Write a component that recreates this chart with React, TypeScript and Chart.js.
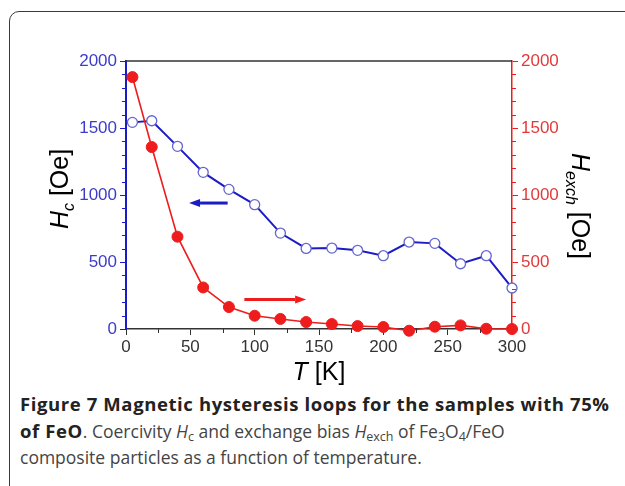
import React, { useEffect, useRef } from "react";
import { Chart, registerables } from "chart.js";

Chart.register(...registerables);

// ---- data ----
const temperatures = [5, 20, 40, 60, 80, 100, 120, 140, 160, 180, 200, 220, 240, 260, 280, 300];
const coercivity = [1542, 1554, 1363, 1169, 1042, 928, 716, 601, 604, 587, 547, 649, 639, 487, 547, 306];
const exchangeBias = [1880, 1358, 689, 310, 164, 99, 75, 52, 37, 22, 15, -13, 17, 27, 2, 0];
const xTickValues = [0, 50, 100, 150, 200, 250, 300];
const yTickValues = [0, 500, 1000, 1500, 2000];
const xMinorStep = 25;
const yMinorStep = 100;
// arrows (data coordinates): [T, value]
const blueArrowFrom = [79, 940];
const blueArrowTo = [49, 940];
const redArrowFrom = [92, 221];
const redArrowTo = [140, 221];

const BLUE_LINE = "#1c1cc6";
const BLUE_MARK = "#6464d2";
const BLUE_TEXT = "#3c3cc8";
const RED = "#ee1c1c";
const RED_TEXT = "#e23a3a";
const DARK = "#333333";
const SANS = "'Liberation Sans', Arial, sans-serif";

type Part = { text: string; font: string; dy?: number };

function drawRich(ctx: CanvasRenderingContext2D, parts: Part[], x: number, y: number, angle: number) {
  ctx.save();
  ctx.translate(x, y);
  ctx.rotate(angle);
  ctx.textBaseline = "alphabetic";
  ctx.textAlign = "left";
  let total = 0;
  for (const p of parts) {
    ctx.font = p.font;
    total += ctx.measureText(p.text).width;
  }
  let cx = -total / 2;
  ctx.fillStyle = "#000";
  for (const p of parts) {
    ctx.font = p.font;
    ctx.fillText(p.text, cx, p.dy || 0);
    cx += ctx.measureText(p.text).width;
  }
  ctx.restore();
}

function drawArrow(ctx: CanvasRenderingContext2D, x1: number, y1: number, x2: number, y2: number, color: string) {
  const dir = Math.sign(x2 - x1);
  const head = 11;
  ctx.save();
  ctx.strokeStyle = color;
  ctx.fillStyle = color;
  ctx.lineWidth = 3;
  ctx.beginPath();
  ctx.moveTo(x1, y1);
  ctx.lineTo(x2 - dir * head, y2);
  ctx.stroke();
  ctx.beginPath();
  ctx.moveTo(x2, y2);
  ctx.lineTo(x2 - dir * head, y2 - 4);
  ctx.lineTo(x2 - dir * head, y2 + 4);
  ctx.closePath();
  ctx.fill();
  ctx.restore();
}

const decorPlugin = {
  id: "decor",
  afterDraw(chart: any) {
    const ctx: CanvasRenderingContext2D = chart.ctx;
    const { left, right, top, bottom } = chart.chartArea;
    const sx = chart.scales.x;
    const sy = chart.scales.y;
    const sy1 = chart.scales.y1;
    ctx.save();
    // top frame line
    ctx.strokeStyle = DARK;
    ctx.lineWidth = 1.5;
    ctx.beginPath();
    ctx.moveTo(left, top);
    ctx.lineTo(right, top);
    ctx.stroke();
    // minor ticks x
    ctx.lineWidth = 1;
    ctx.strokeStyle = DARK;
    for (let v = 0; v <= 300; v += xMinorStep) {
      if (v % 50 === 0) continue;
      const px = Math.round(sx.getPixelForValue(v)) + 0.5;
      ctx.beginPath();
      ctx.moveTo(px, bottom);
      ctx.lineTo(px, bottom + 4);
      ctx.stroke();
    }
    // minor ticks y (left, blue)
    ctx.strokeStyle = BLUE_LINE;
    for (let v = 0; v <= 2000; v += yMinorStep) {
      if (v % 500 === 0) continue;
      const py = Math.round(sy.getPixelForValue(v)) + 0.5;
      ctx.beginPath();
      ctx.moveTo(left - 4, py);
      ctx.lineTo(left, py);
      ctx.stroke();
    }
    // minor ticks y1 (right, red)
    ctx.strokeStyle = RED;
    for (let v = 0; v <= 2000; v += yMinorStep) {
      if (v % 500 === 0) continue;
      const py = Math.round(sy1.getPixelForValue(v)) + 0.5;
      ctx.beginPath();
      ctx.moveTo(right, py);
      ctx.lineTo(right + 4, py);
      ctx.stroke();
    }
    ctx.restore();

    // arrows
    drawArrow(
      ctx,
      sx.getPixelForValue(blueArrowFrom[0]),
      sy.getPixelForValue(blueArrowFrom[1]),
      sx.getPixelForValue(blueArrowTo[0]),
      sy.getPixelForValue(blueArrowTo[1]),
      BLUE_LINE
    );
    drawArrow(
      ctx,
      sx.getPixelForValue(redArrowFrom[0]),
      sy1.getPixelForValue(redArrowFrom[1]),
      sx.getPixelForValue(redArrowTo[0]),
      sy1.getPixelForValue(redArrowTo[1]),
      RED
    );

    // axis titles
    const big = `25px ${SANS}`;
    const bigIt = `italic 25px ${SANS}`;
    const subIt = `italic 16px ${SANS}`;
    drawRich(
      ctx,
      [
        { text: "H", font: bigIt },
        { text: "c", font: subIt, dy: 6 },
        { text: " [Oe]", font: big },
      ],
      left - 58,
      (top + bottom) / 2 - 6,
      -Math.PI / 2
    );
    drawRich(
      ctx,
      [
        { text: "H", font: bigIt },
        { text: "exch", font: subIt, dy: 6 },
        { text: " [Oe]", font: big },
      ],
      right + 60,
      (top + bottom) / 2 + 11,
      Math.PI / 2
    );
    drawRich(
      ctx,
      [
        { text: "T", font: bigIt },
        { text: " [K]", font: big },
      ],
      (left + right) / 2,
      bottom + 51,
      0
    );
  },
};

export default function App() {
  const ref = useRef<HTMLCanvasElement | null>(null);

  useEffect(() => {
    if (!ref.current) return;
    const tickFont = { family: SANS, size: 17 };
    const plain = (v: any) => String(v);
    const chart = new Chart(ref.current, {
      type: "line",
      data: {
        datasets: [
          {
            label: "Hexch",
            data: temperatures.map((t, i) => ({ x: t, y: exchangeBias[i] })),
            yAxisID: "y1",
            borderColor: RED,
            borderWidth: 1.6,
            pointRadius: 5.5,
            pointBackgroundColor: RED,
            pointBorderColor: RED,
            pointBorderWidth: 1,
            tension: 0,
            clip: false as any,
          },
          {
            label: "Hc",
            data: temperatures.map((t, i) => ({ x: t, y: coercivity[i] })),
            yAxisID: "y",
            borderColor: BLUE_LINE,
            borderWidth: 2,
            pointRadius: 5,
            pointBackgroundColor: "#ffffff",
            pointBorderColor: BLUE_MARK,
            pointBorderWidth: 1.3,
            tension: 0,
            clip: false as any,
          },
        ],
      },
      options: {
        animation: false,
        responsive: false,
        devicePixelRatio: 1,
        layout: { padding: { top: 61, left: 0, right: 0, bottom: 0 } },
        plugins: { legend: { display: false }, tooltip: { enabled: false } },
        scales: {
          x: {
            type: "linear",
            min: 0,
            max: 300,
            afterBuildTicks: (s: any) => {
              s.ticks = xTickValues.map((v) => ({ value: v }));
            },
            afterFit: (s: any) => {
              s.height = 390 - 329;
            },
            ticks: { font: tickFont, color: DARK, padding: 2, maxRotation: 0, autoSkip: false, callback: plain },
            grid: { drawOnChartArea: false, drawTicks: true, tickLength: 6, tickColor: DARK, tickWidth: 1 },
            border: { color: DARK, width: 1.5 },
          },
          y: {
            type: "linear",
            position: "left",
            min: 0,
            max: 2000,
            afterBuildTicks: (s: any) => {
              s.ticks = yTickValues.map((v) => ({ value: v }));
            },
            afterFit: (s: any) => {
              s.width = 126;
            },
            ticks: { font: tickFont, color: BLUE_TEXT, padding: 3, callback: plain },
            grid: { drawOnChartArea: false, drawTicks: true, tickLength: 6, tickColor: BLUE_LINE, tickWidth: 1 },
            border: { color: BLUE_LINE, width: 2 },
          },
          y1: {
            type: "linear",
            position: "right",
            min: 0,
            max: 2000,
            afterBuildTicks: (s: any) => {
              s.ticks = yTickValues.map((v) => ({ value: v }));
            },
            afterFit: (s: any) => {
              s.width = 113;
            },
            ticks: { font: tickFont, color: RED_TEXT, padding: 3, callback: plain },
            grid: { drawOnChartArea: false, drawTicks: true, tickLength: 6, tickColor: RED, tickWidth: 1 },
            border: { color: RED, width: 1.5 },
          },
        },
      } as any,
      plugins: [decorPlugin],
    });
    return () => chart.destroy();
  }, []);

  const captionFont = "'Open Sans', 'Noto Sans', sans-serif";
  const subStyle = { fontSize: 12.5, verticalAlign: "-3px", lineHeight: 0 } as const;
  const boldStyle = { color: "#222", fontSize: 18.5, letterSpacing: "0.6px" } as const;
  return (
    <div
      style={{
        position: "fixed",
        left: 0,
        top: 0,
        width: 625,
        height: 486,
        overflow: "hidden",
        background: "#fff",
      }}
    >
      <div
        style={{
          position: "absolute",
          left: 9,
          top: 11,
          width: 680,
          height: 540,
          border: "1.5px solid #3a3a3a",
          borderRadius: 10,
          boxSizing: "border-box",
        }}
      />
      <canvas
        ref={ref}
        width={625}
        height={390}
        style={{ position: "absolute", left: 0, top: 0, width: 625, height: 390 }}
      />
      <div
        style={{
          position: "absolute",
          left: 20,
          top: 391,
          width: 600,
          fontFamily: captionFont,
          fontSize: 17.5,
          lineHeight: "26.5px",
          color: "#444",
          whiteSpace: "nowrap",
        }}
      >
        <div>
          <b style={boldStyle}>Figure 7 Magnetic hysteresis loops for the samples with 75%</b>
        </div>
        <div>
          <b style={boldStyle}>of FeO</b>. Coercivity <i>H</i>
          <sub style={subStyle}>c</sub> and exchange bias <i>H</i>
          <sub style={subStyle}>exch</sub> of Fe
          <sub style={subStyle}>3</sub>O
          <sub style={subStyle}>4</sub>/FeO
        </div>
        <div>composite particles as a function of temperature.</div>
      </div>
    </div>
  );
}
